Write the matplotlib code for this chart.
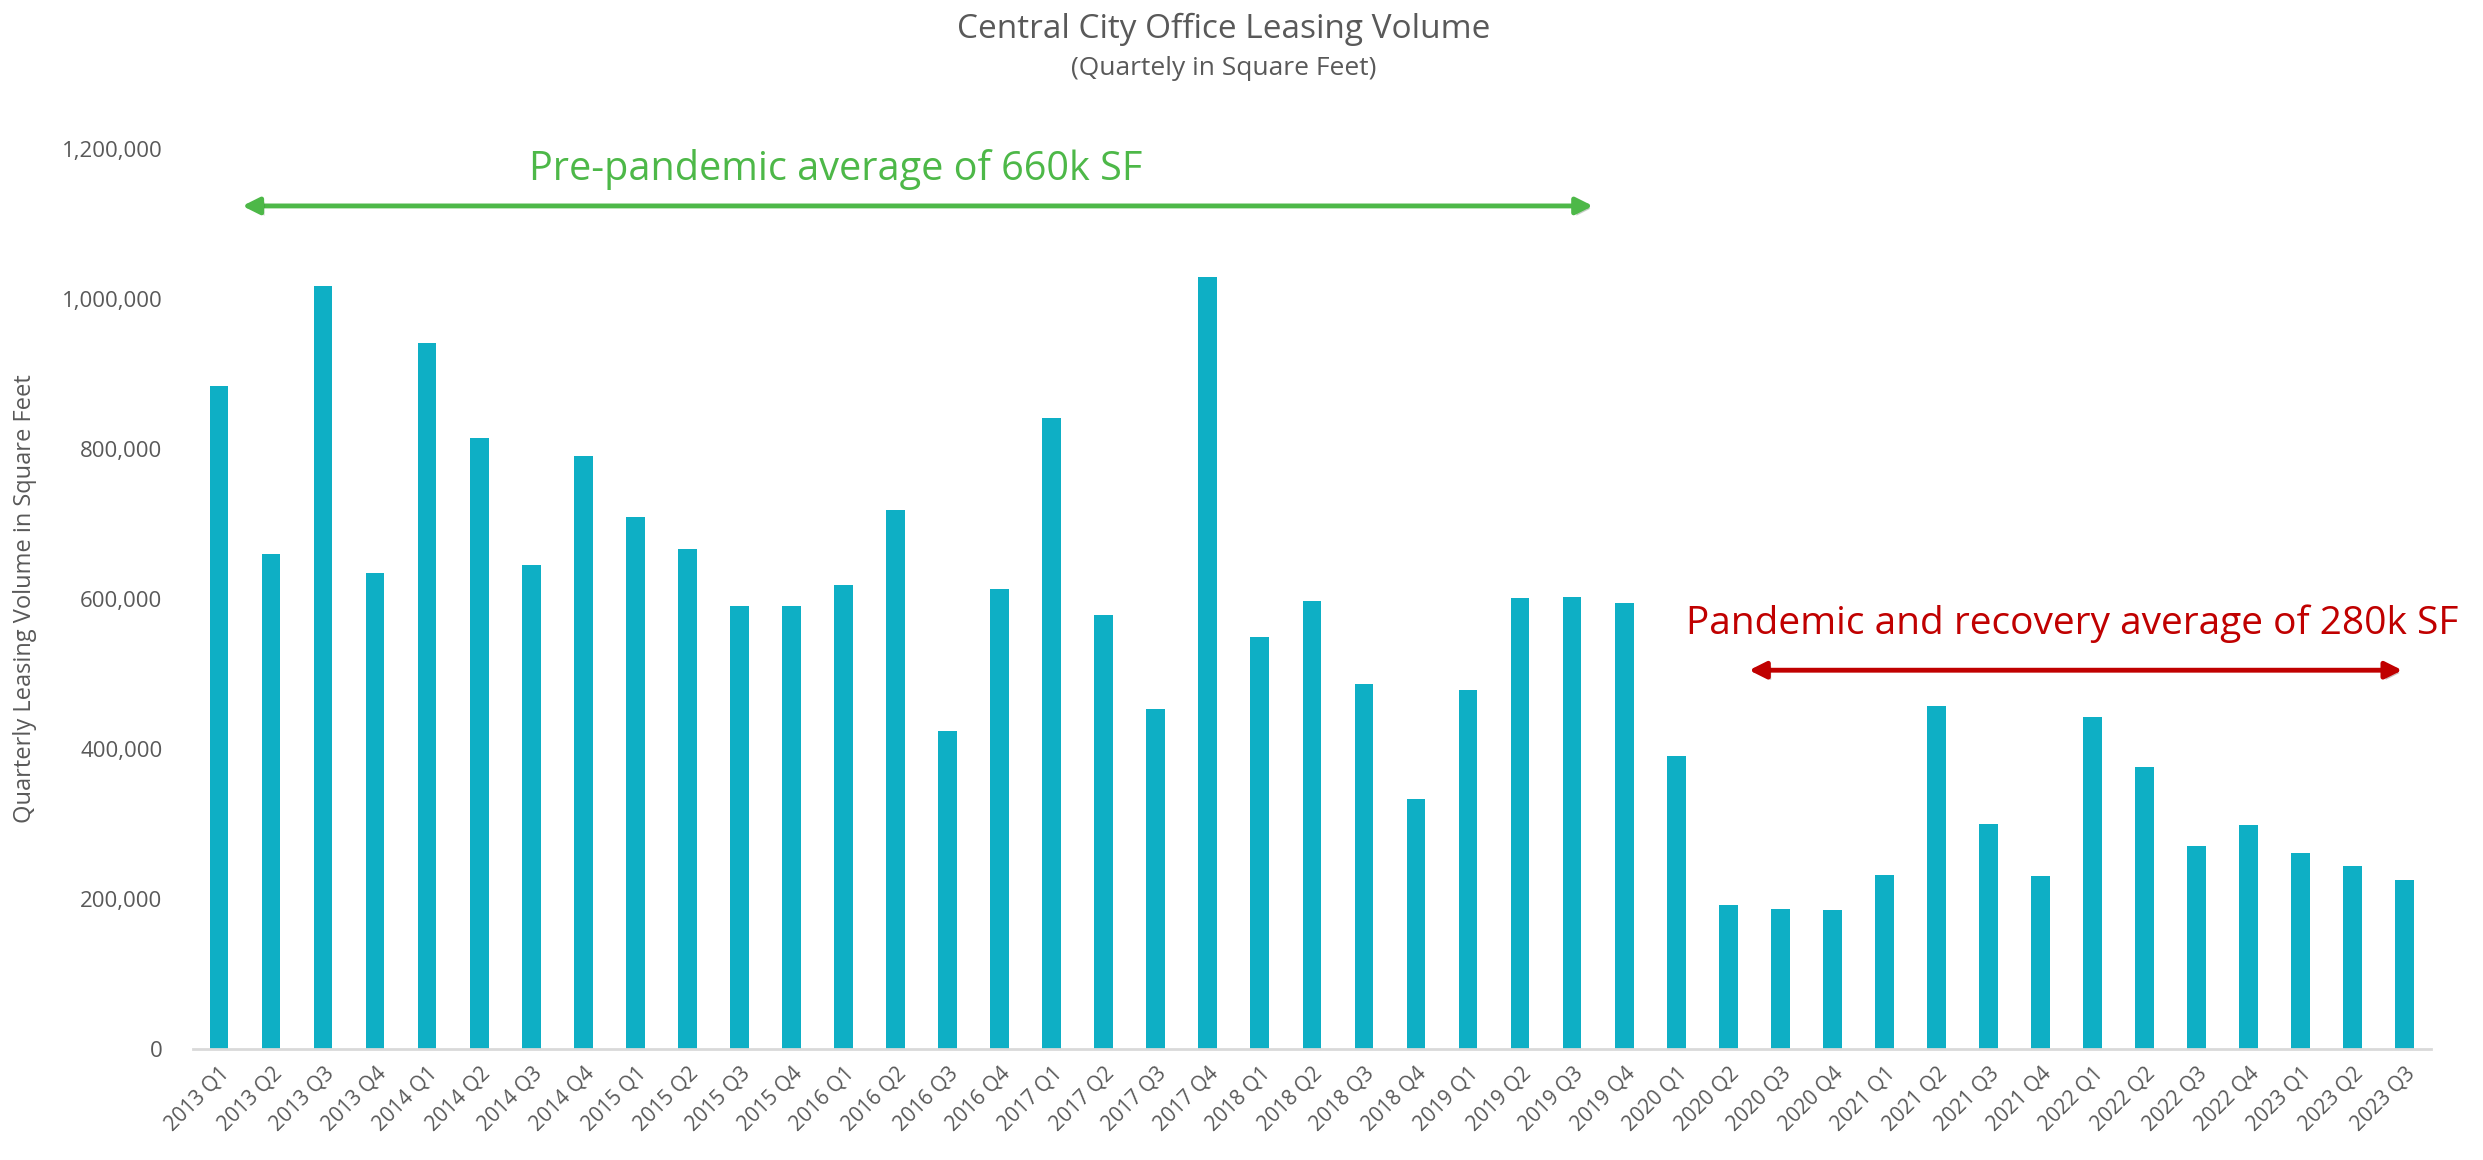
import matplotlib.pyplot as plt
import matplotlib.patheffects as pe
from matplotlib.ticker import FuncFormatter

quarters = [f"{y} Q{q}" for y in range(2013, 2024) for q in range(1, 5)][:43]

leasing_sf = [
    884000, 660000, 1017000, 635000,
    941000, 815000, 645000, 790000,
    709000, 667000, 591000, 590000,
    618000, 718000, 424000, 613000,
    841000, 578000, 453000, 1029000,
    549000, 597000, 486000, 333000,
    478000, 601000, 603000, 595000,
    391000, 192000, 187000, 185000,
    232000, 457000, 300000, 230000,
    442000, 376000, 271000, 298000,
    261000, 244000, 225000,
]

pre_label = "Pre-pandemic average of 660k SF"
post_label = "Pandemic and recovery average of 280k SF"

plt.rcParams['font.family'] = ['Open Sans', 'DejaVu Sans']
grey = '#595959'

fig = plt.figure(figsize=(24.83, 11.6), dpi=100)
ax = fig.add_axes([0.0777, 0.0957, 0.9013, 0.7759])

x = list(range(len(quarters)))
ax.bar(x, leasing_sf, width=0.36, color='#0EAFC5', zorder=2)

ax.set_xlim(-0.5, len(quarters) - 0.5)
ax.set_ylim(0, 1200000)
ax.set_yticks(range(0, 1200001, 200000))
ax.yaxis.set_major_formatter(FuncFormatter(lambda v, p: f"{int(v):,}"))
ax.set_xticks(x)
ax.set_xticklabels(quarters, rotation=45, ha='right', rotation_mode='anchor')
ax.tick_params(axis='both', length=0, colors=grey, labelsize=15)
ax.tick_params(axis='y', labelsize=16, pad=22)
ax.tick_params(axis='x', pad=10)

for s in ['top', 'right', 'left']:
    ax.spines[s].set_visible(False)
ax.spines['bottom'].set_color('#D9D9D9')
ax.spines['bottom'].set_linewidth(2)

ax.set_ylabel("Quarterly Leasing Volume in Square Feet", color=grey, fontsize=17, labelpad=18)

fig.text(0.493, 0.975, "Central City Office Leasing Volume", ha='center', va='center',
         fontsize=24, color=grey)
fig.text(0.493, 0.941, "(Quartely in Square Feet)", ha='center', va='center',
         fontsize=19, color=grey)

shadow = [pe.SimplePatchShadow(offset=(2, -2), alpha=0.25), pe.Normal()]

# pre-pandemic span
green = '#4DB848'
ax.annotate('', xy=(0.45, 1124000), xytext=(26.4, 1124000),
            arrowprops=dict(arrowstyle='<|-|>', color=green, lw=3.5,
                            mutation_scale=25, shrinkA=0, shrinkB=0,
                            path_effects=shadow))
ax.text(11.85, 1172000, pre_label, ha='center', va='center', fontsize=28.5, color=green)

# pandemic span
red = '#C00000'
ax.annotate('', xy=(29.4, 505000), xytext=(41.95, 505000),
            arrowprops=dict(arrowstyle='<|-|>', color=red, lw=3.5,
                            mutation_scale=25, shrinkA=0, shrinkB=0,
                            path_effects=shadow))
ax.text(35.6, 567000, post_label, ha='center', va='center', fontsize=28, color=red)

fig.savefig('out.png', dpi=100)
